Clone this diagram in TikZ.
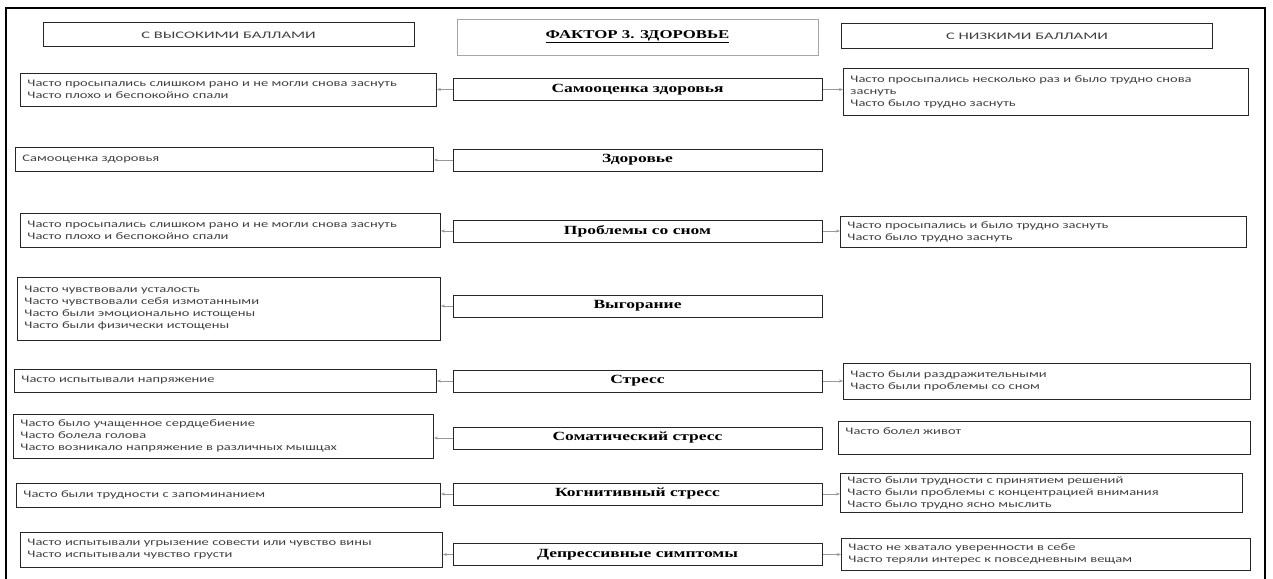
\documentclass[tikz,border=0pt]{standalone}
\usepackage{fontspec}
\usepackage{xcolor}
\usetikzlibrary{arrows.meta, positioning, calc}
\newfontfamily\sidefont[FakeStretch=1.45]{Carlito}
\newfontfamily\headfont[FakeStretch=1.65]{Carlito}
\newfontfamily\factorfont[FakeStretch=1.4]{Liberation Serif}
\definecolor{BoxLine}{HTML}{262626}
\definecolor{SideText}{HTML}{404040}
\definecolor{TitleLine}{HTML}{A6A6A6}
\definecolor{ArrowGray}{HTML}{999999}
\tikzset{
    sidebox/.style={
        draw=BoxLine,
        line width=0.9pt,
        anchor=west,
        text=SideText,
        font=\sidefont\fontsize{10}{12}\selectfont,
        align=left,
        inner xsep=7pt,
        inner ysep=2pt
    },
    factorbox/.style={
        draw=BoxLine,
        line width=1pt,
        minimum width=369,
        minimum height=22,
        text=black,
        font=\factorfont\bfseries\fontsize{12.5}{14}\selectfont,
        align=center,
        inner sep=0pt
    },
    headbox/.style={
        draw=BoxLine,
        line width=1pt,
        minimum width=371,
        minimum height=24,
        text=SideText,
        font=\headfont\fontsize{10}{12}\selectfont,
        inner sep=0pt
    },
    titlebox/.style={
        draw=TitleLine,
        line width=0.8pt,
        minimum width=361,
        minimum height=36,
        font=\factorfont\bfseries\fontsize{12}{14}\selectfont,
        inner sep=0pt
    },
    arrow/.style={
        -{Stealth[length=4pt, width=3pt]},
        line width=0.6pt,
        ArrowGray
    }
}

\begin{document}
\begin{tikzpicture}[x=1pt, y=-1pt]
        \useasboundingbox (0,0) rectangle (1273,578);
        % Frame
        \draw[line width=1.3pt] (6,600) |- (1265,8) -- (1265,600);

        % Headings
        \node[headbox] (high) at (228.5,35) {С ВЫСОКИМИ БАЛЛАМИ};
        \node[titlebox] (title) at (637.5,37) {\underline{ФАКТОР 3. ЗДОРОВЬЕ}};
        \node[headbox, minimum height=25] (low) at (1027,36.5) {С НИЗКИМИ БАЛЛАМИ};

        % Factors
        \node[factorbox] (f1) at (637.5,89.5) {Самооценка здоровья};
        \node[factorbox] (f2) at (637.5,160) {Здоровье};
        \node[factorbox] (f3) at (637.5,231) {Проблемы со сном};
        \node[factorbox] (f4) at (637.5,306) {Выгорание};
        \node[factorbox] (f5) at (637.5,381) {Стресс};
        \node[factorbox] (f6) at (637.5,438) {Соматический стресс};
        \node[factorbox] (f7) at (637.5,494) {Когнитивный стресс};
        \node[factorbox] (f8) at (637.5,554.5) {Депрессивные симптомы};

        % High scores
        \node[sidebox, text width=402pt, minimum height=33] (h1) at (20,89.5) {Часто просыпались слишком рано и не могли снова заснуть\\Часто плохо и беспокойно спали};
        \node[sidebox, text width=404pt, minimum height=24] (h2) at (15,159) {Самооценка здоровья};
        \node[sidebox, text width=406pt, minimum height=34] (h3) at (20,230) {Часто просыпались слишком рано и не могли снова заснуть\\Часто плохо и беспокойно спали};
        \node[sidebox, text width=409pt, minimum height=63] (h4) at (17,308.5) {Часто чувствовали усталость\\Часто чувствовали себя измотанными\\Часто были эмоционально истощены\\Часто были физически истощены};
        \node[sidebox, text width=408pt, minimum height=23] (h5) at (14,380.5) {Часто испытывали напряжение};
        \node[sidebox, text width=406pt, minimum height=44] (h6) at (13,436) {Часто было учащенное сердцебиение\\Часто болела голова\\Часто возникало напряжение в различных мышцах};
        \node[sidebox, text width=410pt, minimum height=24] (h7) at (16,495) {Часто были трудности с запоминанием};
        \node[sidebox, text width=408pt, minimum height=35] (h8) at (20,549.5) {Часто испытывали угрызение совести или чувство вины\\Часто испытывали чувство грусти};

        % Low scores
        \node[sidebox, text width=391pt, minimum height=47] (l1) at (843,91.5) {Часто просыпались несколько раз и было трудно снова\\заснуть\\Часто было трудно заснуть};
        \node[sidebox, text width=392pt, minimum height=31] (l3) at (840,231.5) {Часто просыпались и было трудно заснуть\\Часто было трудно заснуть};
        \node[sidebox, text width=393pt, minimum height=36] (l5) at (843,381) {Часто были раздражительными\\Часто были проблемы со сном};
        \node[sidebox, text width=398pt, minimum height=33] (l6) at (838,437.5) {Часто болел живот\\\mbox{}};
        \node[sidebox, text width=388pt, minimum height=39] (l7) at (840,492.5) {Часто были трудности с принятием решений\\Часто были проблемы с концентрацией внимания\\Часто было трудно ясно мыслить};
        \node[sidebox, text width=395pt, minimum height=32] (l8) at (841,554) {Часто не хватало уверенности в себе\\Часто теряли интерес к повседневным вещам};

        % Arrows
        \draw[arrow] (f1.west) -- (f1.west -| h1.east);
        \draw[arrow] (f2.west) -- (f2.west -| h2.east);
        \draw[arrow] (f3.west) -- (f3.west -| h3.east);
        \draw[arrow] (f4.west) -- (f4.west -| h4.east);
        \draw[arrow] (f5.west) -- (f5.west -| h5.east);
        \draw[arrow] (f6.west) -- (f6.west -| h6.east);
        \draw[arrow] (f7.west) -- (f7.west -| h7.east);
        \draw[arrow] (f8.west) -- (f8.west -| h8.east);
        \draw[arrow] (f1.east) -- (f1.east -| l1.west);
        \draw[arrow] (f3.east) -- (f3.east -| l3.west);
        \draw[arrow] (f5.east) -- (f5.east -| l5.west);
        \draw[arrow] (f7.east) -- (f7.east -| l7.west);
        \draw[arrow] (f8.east) -- (f8.east -| l8.west);
\end{tikzpicture}
\end{document}
